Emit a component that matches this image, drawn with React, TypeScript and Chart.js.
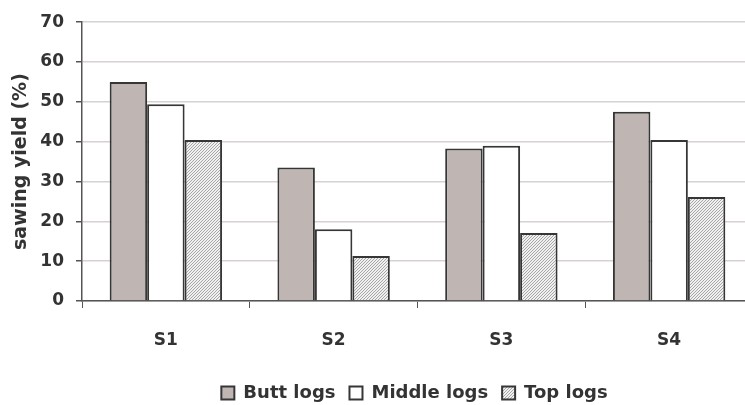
import React, { useEffect, useRef } from "react";
import { Chart, registerables } from "chart.js";

Chart.register(...registerables);

const categories = ["S1", "S2", "S3", "S4"];
const buttLogs = [55.0, 33.5, 38.3, 47.5];
const middleLogs = [49.4, 18.0, 39.0, 40.4];
const topLogs = [40.4, 11.3, 17.1, 26.1];
const yTitle = "sawing yield (%)";

function makePattern(): CanvasPattern | string {
  const c = document.createElement("canvas");
  c.width = 3;
  c.height = 3;
  const ctx = c.getContext("2d");
  if (!ctx) return "#d8d8d8";
  ctx.fillStyle = "#f0f0f0";
  ctx.fillRect(0, 0, 3, 3);
  ctx.fillStyle = "#a6a6a6";
  for (let i = 0; i < 3; i++) ctx.fillRect(i, 2 - i, 1, 1);
  const p = ctx.createPattern(c, "repeat");
  return p || "#d8d8d8";
}

const legendShift = {
  id: "legendShift",
  afterLayout(chart: any) {
    const l = chart.legend;
    if (!l) return;
    const dx = 38;
    const dy = 7;
    l.left += dx;
    l.right += dx;
    l.top += dy;
    l.bottom += dy;
  },
};

export default function App() {
  const ref = useRef<HTMLCanvasElement | null>(null);
  useEffect(() => {
    if (!ref.current) return;
    const pattern = makePattern();
    const border = "#363636";
    const chart = new Chart(ref.current, {
      type: "bar",
      data: {
        labels: categories,
        datasets: [
          { label: "Butt logs", data: buttLogs, backgroundColor: "#bfb5b2", borderColor: border, borderWidth: 2 },
          { label: "Middle logs", data: middleLogs, backgroundColor: "#ffffff", borderColor: border, borderWidth: 2 },
          { label: "Top logs", data: topLogs, backgroundColor: pattern as any, borderColor: border, borderWidth: 2 },
        ],
      },
      options: {
        animation: false,
        responsive: false,
        devicePixelRatio: 1,
        layout: { padding: { top: 21, left: 0, right: 3, bottom: 0 } },
        datasets: { bar: { categoryPercentage: 0.67, barPercentage: 1 } },
        plugins: {
          tooltip: { enabled: false },
          legend: {
            position: "bottom",
            labels: {
              boxWidth: 13,
              boxHeight: 13,
              padding: 14,
              color: "#333",
              font: { family: "DejaVu Sans", size: 18, weight: "bold" },
            },
          },
        },
        scales: {
          x: {
            grid: { display: true, drawOnChartArea: false, tickLength: 7, tickColor: "#555", offset: true },
            border: { color: "#555", width: 1.5 },
            ticks: { color: "#333", padding: 22, font: { family: "DejaVu Sans", size: 17, weight: "bold" } },
            afterFit: (scale: any) => {
              scale.height = 62;
            },
          },
          y: {
            min: 0,
            max: 70,
            ticks: { stepSize: 10, color: "#333", padding: 12, font: { family: "DejaVu Sans", size: 17, weight: "bold" } },
            grid: { color: "#d9d1d1", lineWidth: 1.5, tickLength: 6, tickColor: "#555" },
            border: { color: "#555", width: 1.5 },
            title: {
              display: true,
              text: yTitle,
              color: "#333",
              padding: { top: 10, bottom: 8 },
              font: { family: "DejaVu Sans", size: 19, weight: "bold" },
            },
            afterFit: (scale: any) => {
              scale.width = 82;
            },
          },
        },
      },
      plugins: [legendShift],
    });
    return () => chart.destroy();
  }, []);
  return (
    <div style={{ position: "fixed", left: 0, top: 0, width: 745, height: 405, overflow: "hidden", background: "#fff" }}>
      <canvas ref={ref} width={756} height={405} style={{ width: 756, height: 405, display: "block" }} />
    </div>
  );
}
